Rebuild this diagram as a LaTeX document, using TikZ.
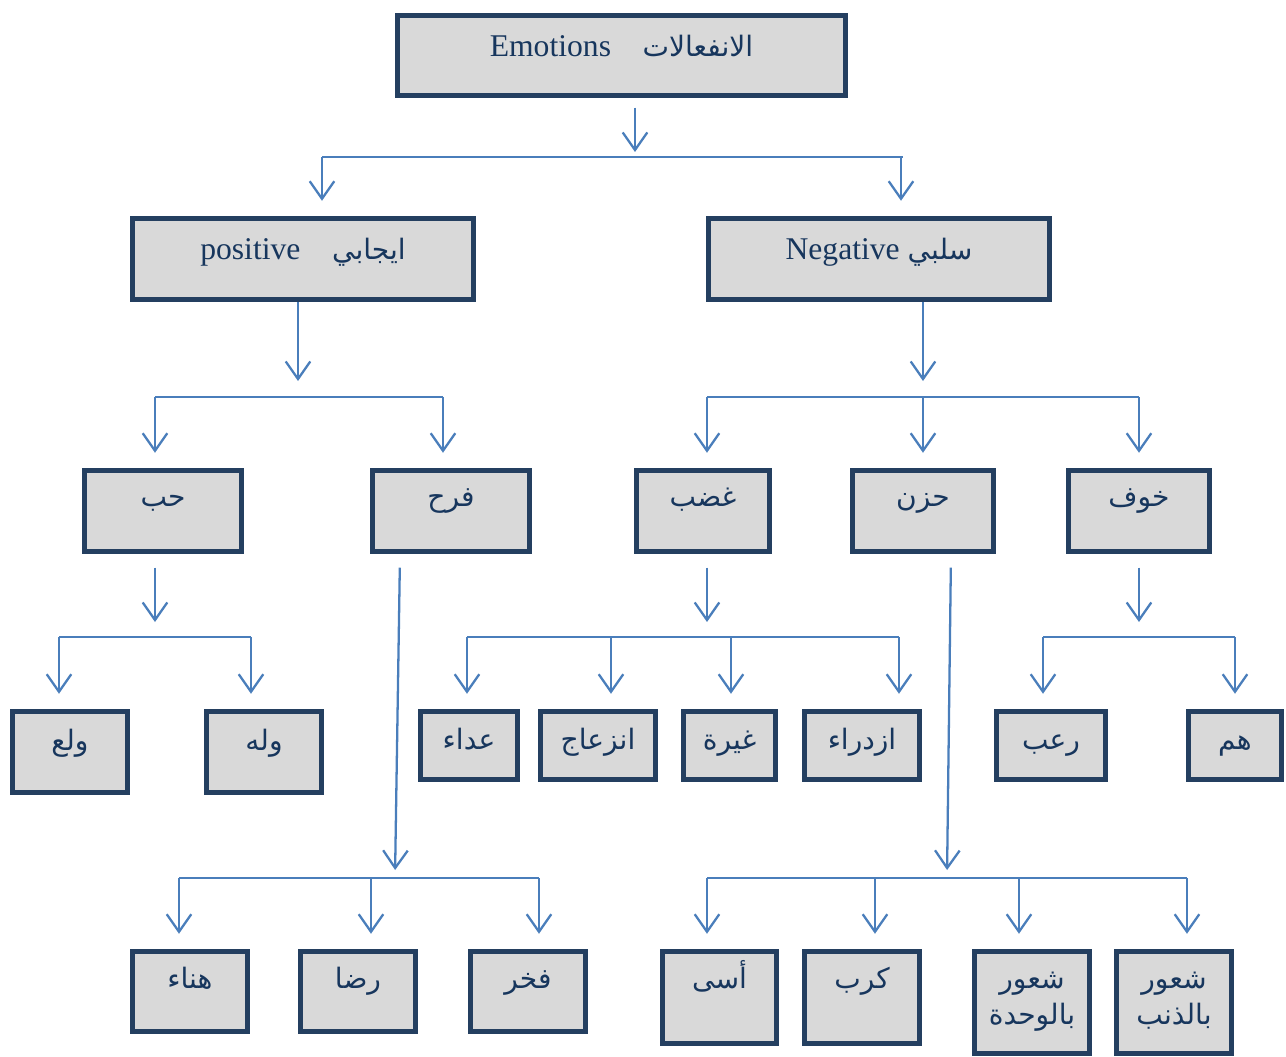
\documentclass[tikz,border=0pt]{standalone}
\usepackage{fontspec}
\setmainfont{Liberation Serif}
\newfontfamily\arabicfont[Script=Arabic]{DejaVu Sans}
\TeXXeTstate=1
\usetikzlibrary{arrows.meta,calc}
\definecolor{boxfill}{RGB}{217,217,217}
\definecolor{boxline}{RGB}{36,63,96}
\definecolor{ink}{RGB}{23,54,93}
\definecolor{wire}{RGB}{74,126,187}
\newcommand\artxt[1]{{\arabicfont\fontsize{16}{19}\selectfont\beginR#1\endR}}
\tikzset{
  box/.style={draw=boxline,line width=0.11cm,fill=boxfill,text=ink,inner sep=0pt,
    font=\fontsize{18}{21}\selectfont},
  head/.style={box,text height=0.83cm,text depth=0.77cm},
  kind/.style={box,text height=0.83cm,text depth=0.79cm},
  emo2/.style={box,text height=0.73cm,text depth=0.89cm},
  leaf/.style={box,text height=0.77cm,text depth=0.85cm},
  leafs/.style={box,text height=0.77cm,text depth=0.59cm},
  low/.style={box,text height=0.73cm,text depth=#1},
  twoline/.style={box,align=center,text height=1.47cm,text depth=0.57cm},
  bus/.style={draw=wire,line width=1.3pt},
  arr/.style={bus,-{Straight Barb[length=10pt,width=14pt]}}
}
\begin{document}
\begin{tikzpicture}[x=0.02cm,y=-0.02cm]
\useasboundingbox (0,0) rectangle (1286,1057);
% boxes
\node[head,minimum width=8.96cm] (emo) at (621.5,55.5) {Emotions\quad\artxt{الانفعالات}};
\node[kind,minimum width=6.82cm] (pos) at (303,259) {positive\quad\artxt{ايجابي}};
\node[kind,minimum width=6.82cm] (neg) at (879,259) {Negative \artxt{سلبي}};

\node[emo2,minimum width=3.14cm] (hubb) at (163,511) {\artxt{حب}};
\node[emo2,minimum width=3.14cm] (farah) at (451,511) {\artxt{فرح}};
\node[emo2,minimum width=2.66cm] (ghadab) at (703,511) {\artxt{غضب}};
\node[emo2,minimum width=2.82cm] (huzn) at (923,511) {\artxt{حزن}};
\node[emo2,minimum width=2.82cm] (khawf) at (1139,511) {\artxt{خوف}};

\node[leaf,minimum width=2.30cm] (walaa) at (70,752) {\artxt{ولع}};
\node[leaf,minimum width=2.30cm] (walah) at (264,752) {\artxt{وله}};
\node[leafs,minimum width=1.94cm] (idaa) at (469,745.5) {\artxt{عداء}};
\node[leafs,minimum width=2.30cm] (inziaj) at (598,745.5) {\artxt{انزعاج}};
\node[leafs,minimum width=1.84cm] (ghayra) at (729.5,745.5) {\artxt{غيرة}};
\node[leafs,minimum width=2.30cm] (izdiraa) at (862,745.5) {\artxt{ازدراء}};
\node[leafs,minimum width=2.18cm] (ruab) at (1051,745.5) {\artxt{رعب}};
\node[leafs,minimum width=1.86cm] (hamm) at (1235,745.5) {\artxt{هم}};

\node[low=0.87cm,minimum width=2.30cm] (hanaa) at (190,991.5) {\artxt{هناء}};
\node[low=0.87cm,minimum width=2.30cm] (rida) at (358,991.5) {\artxt{رضا}};
\node[low=0.87cm,minimum width=2.30cm] (fakhr) at (528,991.5) {\artxt{فخر}};
\node[low=1.11cm,minimum width=2.28cm] (asa) at (719.5,997.5) {\artxt{أسى}};
\node[low=1.11cm,minimum width=2.30cm] (karb) at (862,997.5) {\artxt{كرب}};
\node[twoline,minimum width=2.30cm] (wahda) at (1032,1002.5) {\artxt{شعور}\\\artxt{بالوحدة}};
\node[twoline,minimum width=2.30cm] (dhanb) at (1174,1002.5) {\artxt{شعور}\\\artxt{بالذنب}};

% buses
\foreach \p/\y/\l/\r in {emo/157/322/903,pos/397/155/443,neg/397/707/1139,
    hubb/637/59/251,farah/878/179/539,ghadab/637/467/899,huzn/878/707/1187,khawf/637/1043/1235}{
  \coordinate (\p-l) at (\l,\y);
  \coordinate (\p-r) at (\r,\y);
  \draw[bus] (\p-l) -- (\p-r);
}

% stems into the buses
\foreach \p/\x/\y/\a/\b in {emo/635/157/0.19/0.1,pos/298/397/0/0.32,neg/923/397/0/0.32,
    hubb/155/637/0.27/0.3,ghadab/707/637/0.27/0.3,khawf/1139/637/0.27/0.3}{
  \coordinate (\p-j) at (\x,\y);
  \draw[arr,shorten <=\a cm,shorten >=\b cm] (\p.south -| \p-j) -- (\p-j);
}
\coordinate (farah-j) at (395,878);
\draw[arr,shorten <=0.27cm,shorten >=0.16cm] ([xshift=-1.02cm]farah.south) -- (farah-j);
\coordinate (huzn-j) at (947,878);
\draw[arr,shorten <=0.27cm,shorten >=0.16cm] ([xshift=0.56cm]huzn.south) -- (huzn-j);

% drops to the boxes
\foreach \c/\x/\y in {pos/322/157,neg/901/157,
    hubb/155/397,farah/443/397,ghadab/707/397,huzn/923/397,khawf/1139/397,
    walaa/59/637,walah/251/637,idaa/467/637,inziaj/611/637,ghayra/731/637,izdiraa/899/637,
    ruab/1043/637,hamm/1235/637,
    hanaa/179/878,rida/371/878,fakhr/539/878,
    asa/707/878,karb/875/878,wahda/1019/878,dhanb/1187/878}{
  \coordinate (\c-in) at (\x,\y);
  \draw[arr,shorten >=0.3cm] (\c-in) -- (\c-in |- \c.north);
}
\end{tikzpicture}
\end{document}
